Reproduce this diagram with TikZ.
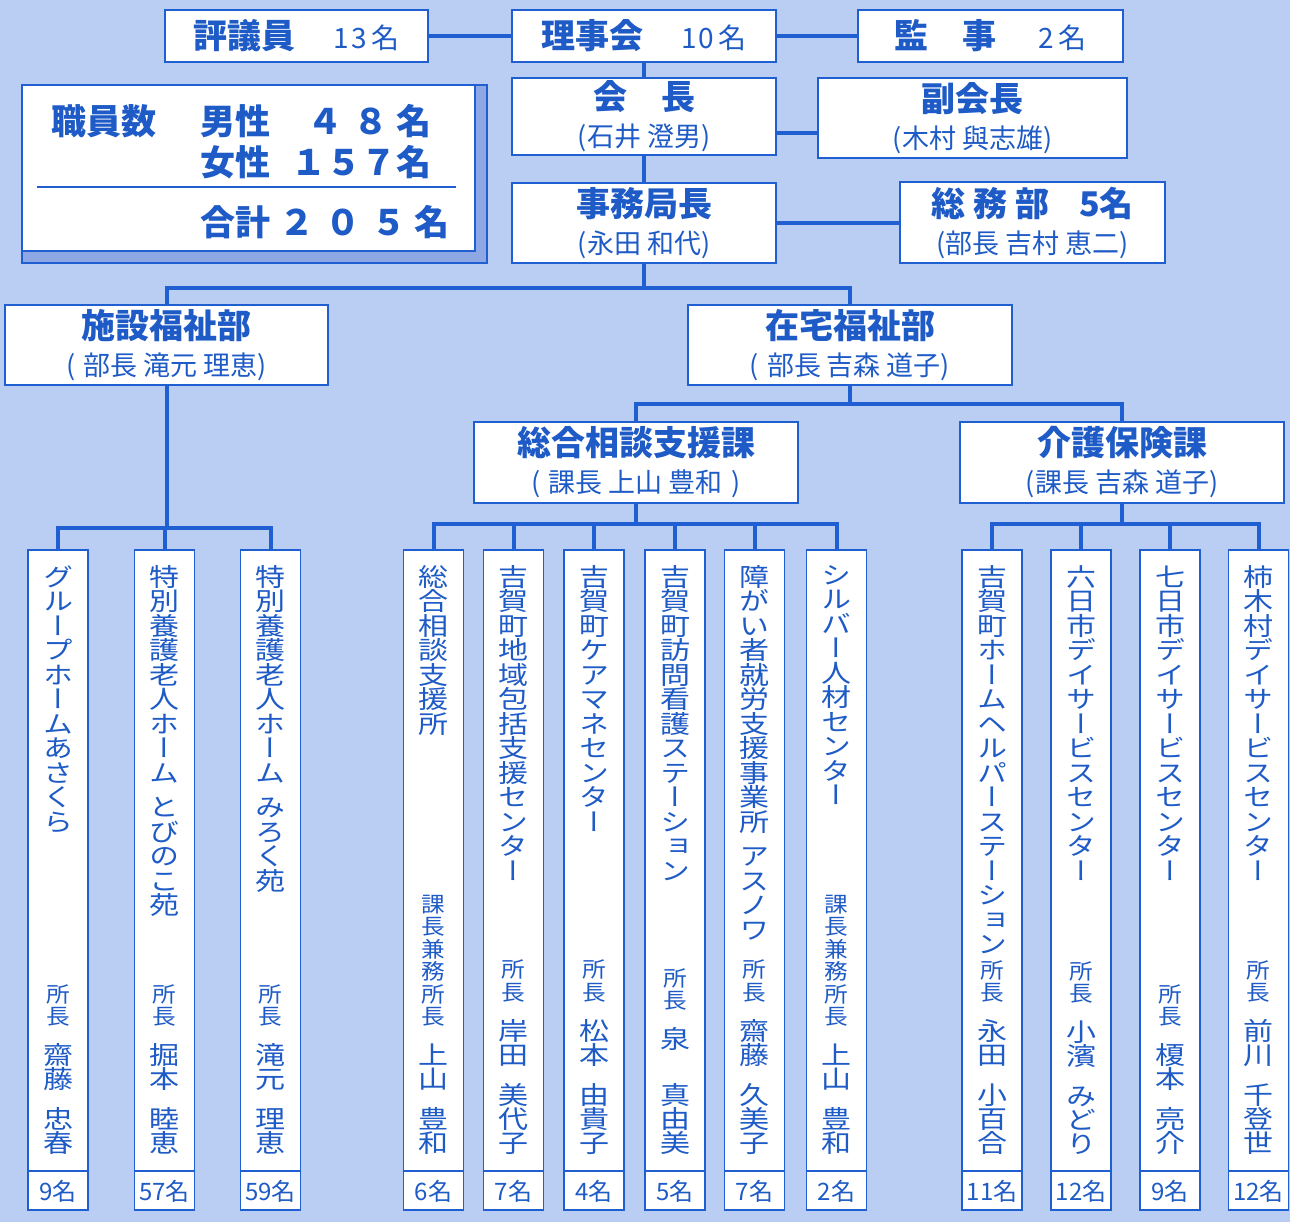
\documentclass[tikz,border=0pt]{standalone}
\usepackage{fontspec}
\usepackage{graphicx}
\setmainfont{Noto Sans CJK JP}
\newfontfamily\jpv[RawFeature=+vert]{Noto Sans CJK JP}
\definecolor{bgblue}{HTML}{BACDF2}
\definecolor{lnblue}{HTML}{1F5FD2}
\definecolor{txblue}{HTML}{1E5BC6}
\definecolor{shblue}{HTML}{8EA8E6}
\newdimen\tategap
\ExplSyntaxOn
\tl_new:N \l_tate_items_tl
\NewDocumentCommand \tatelist { m m }
 {
  \tl_set:Nx \l_tate_items_tl { #2 }
  \tl_map_inline:Nn \l_tate_items_tl
   {
    \str_if_eq:nnTF { ##1 } { * }
     { \vskip \tategap }
     { \hbox_to_wd:nn { 40pt } { \hss \scalebox{#1}[1]{##1} \hss } }
   }
 }
\ExplSyntaxOff
\newcommand\tatetop[1]{\vbox{\jpv\fontsize{25}{24.5}\selectfont\tategap=10pt\tatelist{1.2}{#1}}}
\newcommand\tatebot[2]{\vbox{\jpv\tategap=16pt\fontsize{21.5}{22.5}\selectfont\tatelist{1.1}{#1}\vskip16pt\fontsize{25}{24}\selectfont\tatelist{1.2}{#2}}}
\newcommand\bigln{\bfseries\fontsize{34}{37}\selectfont}
\newcommand\smallln{\fontsize{27}{37}\selectfont}
\newcommand\numln{\fontsize{28}{30}\selectfont}
\begin{document}
\begin{tikzpicture}[x=1pt,y=-1pt,
  kbox/.style={draw=lnblue,line width=1.5pt,fill=white,inner sep=0pt,text=txblue,align=center,font=\fontsize{34}{37}\selectfont},
  txt/.style={text=txblue,inner sep=0pt},
  link/.style={draw=lnblue,line width=4pt}]
\useasboundingbox (0,0) rectangle (1290,1222);
\fill[bgblue] (0,0) rectangle (1290,1222);

\node[kbox,minimum width=263pt,minimum height=52pt] (hyogi) at (296.5,36)
  {{\bigln 評議員}\hspace{38pt}{\numln 1\hspace{2pt}3\hspace{4pt}名}};
\node[kbox,minimum width=264pt,minimum height=52pt] (riji) at (644,36)
  {{\bigln 理事会}\hspace{38pt}{\numln 1\hspace{2pt}0\hspace{4pt}名}};
\node[kbox,minimum width=265pt,minimum height=52pt] (kanji) at (990.5,36)
  {{\bigln 監\hspace{34pt}事}\hspace{42pt}{\numln 2\hspace{4pt}名}};
\node[kbox,minimum width=264pt,minimum height=77pt] (kaicho) at (644,116.5)
  {{\bigln 会\hspace{34pt}長}\\{\smallln (石井\hspace{6pt}澄男)}};
\node[kbox,minimum width=309pt,minimum height=80pt] (fuku) at (972.5,118)
  {{\bigln 副会長}\\{\smallln (木村\hspace{6pt}與志雄)}};
\node[kbox,minimum width=264pt,minimum height=80pt] (jimu) at (644,223)
  {{\bigln 事務局長}\\{\smallln (永田\hspace{6pt}和代)}};
\node[kbox,minimum width=265pt,minimum height=81pt] (somu) at (1032.5,222.5)
  {{\bigln 総\hspace{8pt}務\hspace{8pt}部\hspace{30pt}5名}\\{\smallln (部長\hspace{6pt}吉村\hspace{6pt}恵二)}};
\node[kbox,minimum width=323pt,minimum height=80pt] (shisetsu) at (166.5,345)
  {{\bigln 施設福祉部}\\{\smallln (\hspace{8pt}部長\hspace{6pt}滝元\hspace{6pt}理恵)}};
\node[kbox,minimum width=324pt,minimum height=80pt] (zaitaku) at (850,345)
  {{\bigln 在宅福祉部}\\{\smallln (\hspace{8pt}部長\hspace{6pt}吉森\hspace{6pt}道子)}};
\node[kbox,minimum width=324pt,minimum height=81pt] (sogo) at (636,462.5)
  {{\bigln 総合相談支援課}\\{\smallln (\hspace{8pt}課長\hspace{6pt}上山\hspace{6pt}豊和\hspace{8pt})}};
\node[kbox,minimum width=324pt,minimum height=81pt] (kaigo) at (1122,462.5)
  {{\bigln 介護保険課}\\{\smallln (課長\hspace{6pt}吉森\hspace{6pt}道子)}};

\draw[draw=lnblue,line width=1.2pt,fill=shblue] (22,85) rectangle (487,263);
\node[kbox,minimum width=453pt,minimum height=166pt] (staff) at (248.5,168) {};
\draw[lnblue,line width=2.5pt] (37,187) -- (456,187);
\begin{scope}[every node/.style={txt,font=\bfseries\fontsize{35}{35}\selectfont}]
\node (staffT) at (104,121) {職員数};
\node (maleT) at (235,121) {男性};
\node[anchor=east] (maleN) at (432,121) {４\hspace{11pt}８\hspace{8pt}名};
\node (femT) at (235,162) {女性};
\node[anchor=east] (femN) at (432,162) {１５７名};
\node (sumT) at (235,222) {合計};
\node[anchor=east] (sumN) at (450,222) {２\hspace{11pt}０\hspace{11pt}５\hspace{8pt}名};
\end{scope}

\foreach \n/\x/\ttl/\rl/\nm/\cnt in {
  c1/58/グループホームあさくら/所長/齋藤*忠春/9名,
  c2/164.5/特別養護老人ホーム*とびのこ苑/所長/掘本*睦恵/57名,
  c3/270.5/特別養護老人ホーム*みろく苑/所長/滝元*理恵/59名,
  c4/433.5/総合相談支援所/課長兼務所長/上山*豊和/6名,
  c5/513.5/吉賀町地域包括支援センター/所長/岸田*美代子/7名,
  c6/594/吉賀町ケアマネセンター/所長/松本*由貴子/4名,
  c7/675/吉賀町訪問看護ステーション/所長/泉**真由美/5名,
  c8/754.5/障がい者就労支援事業所*アスノワ/所長/齋藤*久美子/7名,
  c9/836.5/シルバー人材センター/課長兼務所長/上山*豊和/2名,
  c10/992/吉賀町ホームヘルパーステーション/所長/永田*小百合/11名,
  c11/1081/六日市デイサービスセンター/所長/小濱*みどり/12名,
  c12/1170/七日市デイサービスセンター/所長/榎本*亮介/9名,
  c13/1258.5/柿木村デイサービスセンター/所長/前川*千登世/12名}{
  \node[kbox,minimum width=60pt,minimum height=660pt] (\n) at (\x,880) {};
  \draw[lnblue,line width=1.5pt] ([yshift=40pt]\n.south west) -- ([yshift=40pt]\n.south east);
  \node[txt,anchor=north] (\n top) at ([yshift=-16pt]\n.north) {\tatetop{\ttl}};
  \node[txt,anchor=south] (\n bot) at ([yshift=56pt]\n.south) {\tatebot{\rl}{\nm}};
  \node[txt,font=\fontsize{24}{24}\selectfont] (\n cnt) at ([yshift=19pt]\n.south) {\cnt};
}

\coordinate (b1) at (644,288);
\coordinate (b2) at (850,404);
\coordinate (b3) at (166.5,528);
\coordinate (b4) at (636,524);
\coordinate (b5) at (1122,524);
\draw[link] (hyogi.east) -- (riji.west);
\draw[link] (riji.east) -- (kanji.west);
\draw[link] (riji.south) -- (kaicho.north);
\draw[link] (kaicho.south) -- (jimu.north);
\draw[link] ([yshift=-16.5pt]kaicho.east) -- ([yshift=-16.5pt]kaicho.east -| fuku.west);
\draw[link] (jimu.east) -- (jimu.east -| somu.west);
\draw[link] (jimu.south) -- (b1);
\draw[link] (shisetsu.north) |- (b1) -| (zaitaku.north);
\draw[link] (zaitaku.south) -- (b2);
\draw[link] (sogo.north) |- (b2) -| (kaigo.north);
\draw[link] (shisetsu.south) -- (b3);
\draw[link] (c1.north) |- (b3) -| (c3.north);
\draw[link] (c2.north) -- (c2.north |- b3);
\draw[link] (sogo.south) -- (b4);
\draw[link] (c4.north) |- (b4) -| (c9.north);
\foreach \c in {c5,c6,c7,c8} \draw[link] (\c.north) -- (\c.north |- b4);
\draw[link] (kaigo.south) -- (b5);
\draw[link] (c10.north) |- (b5) -| (c13.north);
\foreach \c in {c11,c12} \draw[link] (\c.north) -- (\c.north |- b5);
\end{tikzpicture}
\end{document}
